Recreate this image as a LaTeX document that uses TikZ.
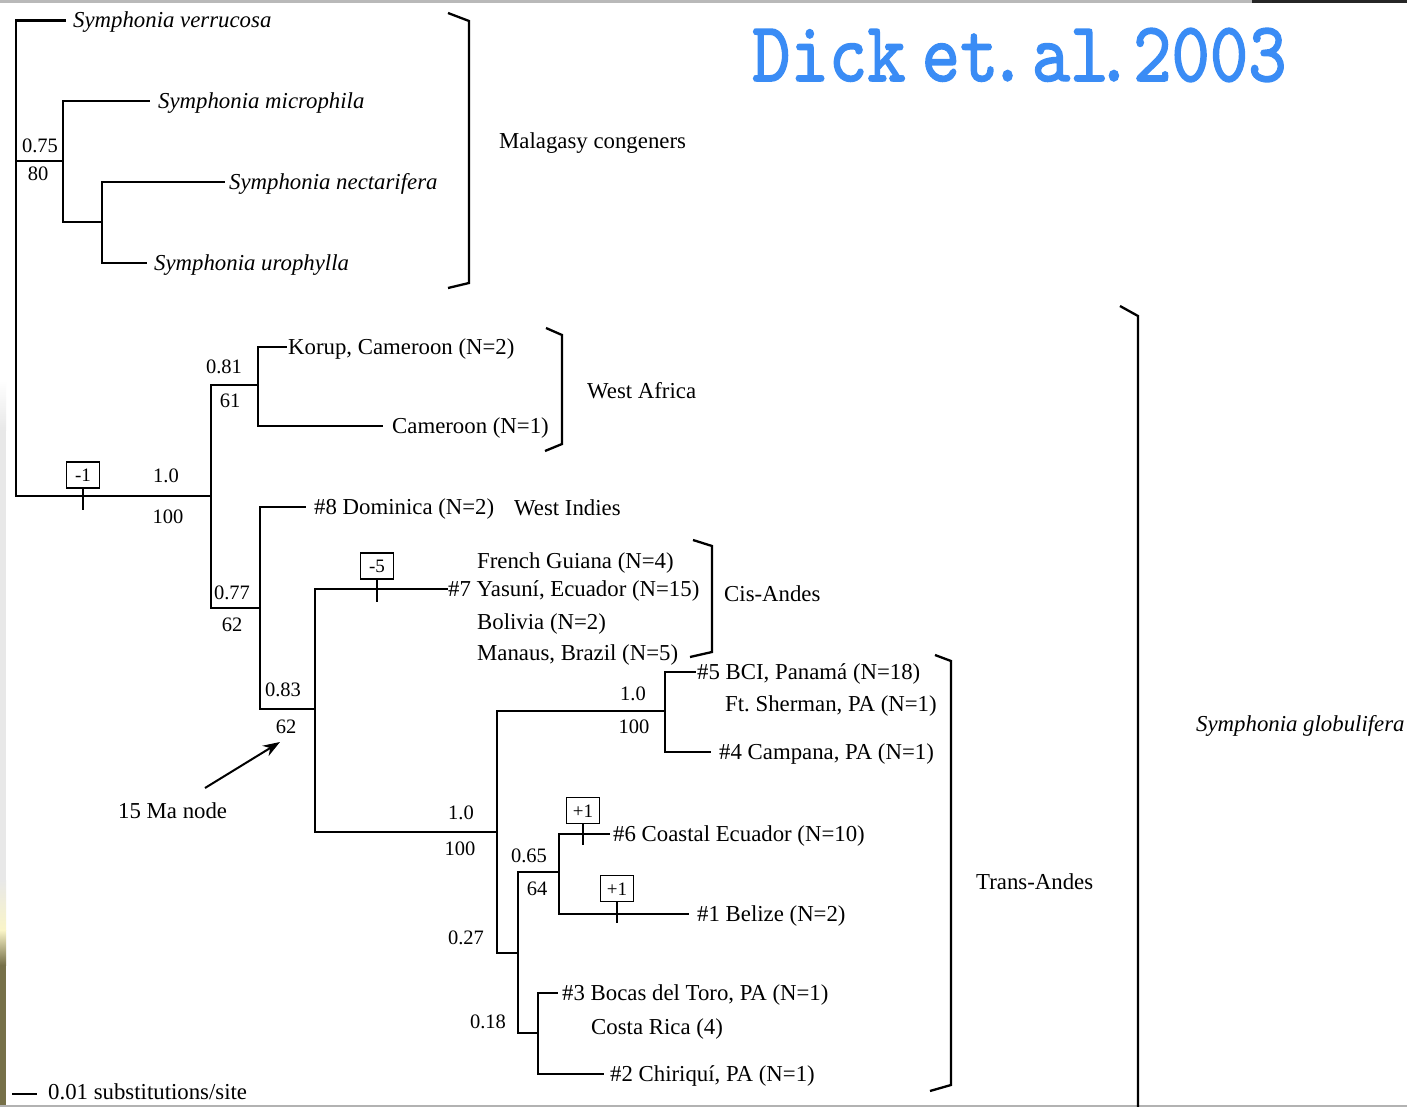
\documentclass[tikz,border=0pt]{standalone}
\usepackage{fontspec}
\setmainfont{Liberation Serif}
\newfontfamily\titlefont{lmmono10-regular}[Extension=.otf, FakeBold=1.8]
\usetikzlibrary{arrows.meta}
\definecolor{titleblue}{RGB}{58,140,245}
\definecolor{olivestrip}{RGB}{118,112,72}
\newcommand\mytxt{\fontsize{22.8}{27}\selectfont}
\newcommand\mylab{\fontsize{20.5}{24}\selectfont}
\newcommand\mybox{\fontsize{19}{22}\selectfont}
\tikzset{
  br/.style={line width=2.3pt, line cap=rect},
  brk/.style={line width=2.3pt, line join=miter},
  leaf/.style={anchor=west, inner sep=0pt, font=\mytxt, text height=14.5pt, text depth=0pt},
  spc/.style={leaf, font=\mytxt\itshape},
  lab/.style={inner sep=0pt, font=\mylab, text height=14pt, text depth=0pt},
  chg/.style={draw, line width=1.8pt, minimum width=33pt, minimum height=26pt, inner sep=0pt, font=\mybox, text height=13pt, text depth=0pt},
  tick/.style={line width=1.8pt}
}
\begin{document}
\begin{tikzpicture}[x=1pt,y=-1pt]
\useasboundingbox (0,0) rectangle (1407,1107);
\clip (0,0) rectangle (1407,1107);
% frame artifacts
\fill[white] (0,0) rectangle (1407,1107);
\shade[top color=white, bottom color=gray!18] (0,380) rectangle (6,430);
\fill[gray!18] (0,430) rectangle (6,880);
\shade[top color=gray!18, bottom color={rgb,255:red,250;green,245;blue,200}] (0,880) rectangle (6,930);
\shade[top color={rgb,255:red,250;green,245;blue,200}, bottom color=olivestrip] (0,930) rectangle (6,965);
\fill[olivestrip] (0,965) rectangle (6,1107);
\draw[line width=3pt, gray!55] (0,2) -- (1407,2);
\draw[line width=3pt, black!85] (1252,1.5) -- (1407,1.5);
\draw[line width=2.5pt, gray!60] (0,1106) -- (1407,1106);

% title
\node[anchor=base west, text=titleblue, inner sep=0pt, xscale=0.86] (title) at (752,81) {\titlefont\fontsize{85}{90}\selectfont Dick\hspace{0.22em}et\hspace{-0.14em}.\hspace{0.07em}al\hspace{-0.19em}.\hspace{0.0em}2003};

% internal node coordinates
\coordinate (root) at (16,161);
\coordinate (n075) at (63,161);
\coordinate (nnu) at (102,222);
\coordinate (n10) at (211,496);
\coordinate (n081) at (258,385);
\coordinate (n077) at (260,608);
\coordinate (n083) at (315,709);
\coordinate (nL10) at (497,832);
\coordinate (nU10) at (665,711);
\coordinate (n027) at (518,953);
\coordinate (n065) at (559,872);
\coordinate (n018) at (538,1033);

% leaves
\node[spc] (sv) at (73,20.5) {Symphonia verrucosa};
\node[spc] (sm) at (158,101) {Symphonia microphila};
\node[spc] (sn) at (229,182) {Symphonia nectarifera};
\node[spc] (su) at (154,263) {Symphonia urophylla};
\node[leaf] (korup) at (288,347) {Korup, Cameroon (N=2)};
\node[leaf] (cam) at (392,426) {Cameroon (N=1)};
\node[leaf] (dom) at (314,507) {\#8 Dominica (N=2)};
\node[leaf] (y7) at (448,589) {\#7 Yasuní, Ecuador (N=15)};
\node[leaf] (b5) at (697,672) {\#5 BCI, Panamá (N=18)};
\node[leaf] (c4) at (719,752) {\#4 Campana, PA (N=1)};
\node[leaf] (e6) at (613,834) {\#6 Coastal Ecuador (N=10)};
\node[leaf] (b1) at (697,914) {\#1 Belize (N=2)};
\node[leaf] (t3) at (562,993) {\#3 Bocas del Toro, PA (N=1)};
\node[leaf] (c2) at (610,1074) {\#2 Chiriquí, PA (N=1)};

% extra locality lines
\node[leaf] (fg) at (477,561) {French Guiana (N=4)};
\node[leaf] (bo) at (477,622) {Bolivia (N=2)};
\node[leaf] (ma) at (477,653) {Manaus, Brazil (N=5)};
\node[leaf] (fs) at (725,704) {Ft.\ Sherman, PA (N=1)};
\node[leaf] (cr) at (591,1027) {Costa Rica (4)};

% branches
\draw[br] (root) |- ([xshift=-8pt]sv.west);
\draw[br] (root) -- (n075);
\draw[br] (root) |- (n10);
\draw[br] (n075) |- ([xshift=-9pt]sm.west);
\draw[br] (n075) |- (nnu);
\draw[br] (nnu) |- ([xshift=-5pt]sn.west);
\draw[br] (nnu) |- ([xshift=-8pt]su.west);
\draw[br] (n10) |- (n081);
\draw[br] (n10) |- (n077);
\draw[br] (n081) |- ([xshift=-2pt]korup.west);
\draw[br] (n081) |- ([xshift=-10pt]cam.west);
\draw[br] (n077) |- ([xshift=-9pt]dom.west);
\draw[br] (n077) |- (n083);
\draw[br] (n083) |- ([xshift=-1pt]y7.west);
\draw[br] (n083) |- (nL10);
\draw[br] (nL10) |- (nU10);
\draw[br] (nL10) |- (n027);
\draw[br] (nU10) |- ([xshift=-2pt]b5.west);
\draw[br] (nU10) |- ([xshift=-9pt]c4.west);
\draw[br] (n027) |- (n065);
\draw[br] (n027) |- (n018);
\draw[br] (n065) |- ([xshift=-4pt]e6.west);
\draw[br] (n065) |- ([xshift=-9pt]b1.west);
\draw[br] (n018) |- ([xshift=-5pt]t3.west);
\draw[br] (n018) |- ([xshift=-7pt]c2.west);

% support values
\node[lab] (l075) at (40,146) {0.75};
\node[lab] (l80) at (38,174) {80};
\node[lab] (l10a) at (166,475) {1.0};
\node[lab] (l100a) at (168,516) {100};
\node[lab] (l081) at (224,366) {0.81};
\node[lab] (l61) at (230,400) {61};
\node[lab] (l077) at (232,592) {0.77};
\node[lab] (l62a) at (232,624) {62};
\node[lab] (l083) at (283,689) {0.83};
\node[lab] (l62b) at (286,726) {62};
\node[lab] (l10b) at (633,693) {1.0};
\node[lab] (l100b) at (634,726) {100};
\node[lab] (l10c) at (461,812) {1.0};
\node[lab] (l100c) at (460,848) {100};
\node[lab] (l065) at (529,855) {0.65};
\node[lab] (l64) at (537,888) {64};
\node[lab] (l027) at (466,937) {0.27};
\node[lab] (l018) at (488,1021) {0.18};

% character change boxes
\node[chg] (m1) at (83,475) {-1};
\coordinate (m1t) at (83,510);
\draw[tick] (m1.south) -- (m1t);
\node[chg] (m5) at (377,566) {-5};
\coordinate (m5t) at (377,602);
\draw[tick] (m5.south) -- (m5t);
\node[chg] (p1a) at (583,810.5) {+1};
\coordinate (p1at) at (583,845);
\draw[tick] (p1a.south) -- (p1at);
\node[chg] (p1b) at (617,888.5) {+1};
\coordinate (p1bt) at (617,923);
\draw[tick] (p1b.south) -- (p1bt);

% brackets
\draw[brk] (448,13) -- (469,21) -- (469,283) -- (448,288);
\draw[brk] (546,328) -- (562,335) -- (562,444) -- (545,451);
\draw[brk] (693,540) -- (712,546) -- (712,652) -- (690,657);
\draw[brk] (935,655) -- (951,661) -- (951,1085) -- (930,1091);
\draw[brk] (1120,306) -- (1138,316) -- (1138,1115);

% group labels
\node[leaf] (gmal) at (499,141) {Malagasy congeners};
\node[leaf] (gwa) at (587,391) {West Africa};
\node[leaf] (gwi) at (514,508) {West Indies};
\node[leaf] (gcis) at (724,594) {Cis-Andes};
\node[leaf] (gtrans) at (976,882) {Trans-Andes};
\node[spc] (gglob) at (1196,724) {Symphonia globulifera};

% 15 Ma node annotation
\node[leaf] (mant) at (118,811) {15 Ma node};
\coordinate (arrT) at (205,788);
\coordinate (arrH) at (280,742);
\draw[line width=2pt, -{Stealth[length=17pt,width=12pt]}] (arrT) -- (arrH);

% scale bar
\coordinate (sb1) at (12,1094);
\coordinate (sb2) at (37,1094);
\draw[line width=2pt] (sb1) -- (sb2);
\node[leaf] (sbl) at (48,1092) {0.01 substitutions/site};
\end{tikzpicture}
\end{document}
